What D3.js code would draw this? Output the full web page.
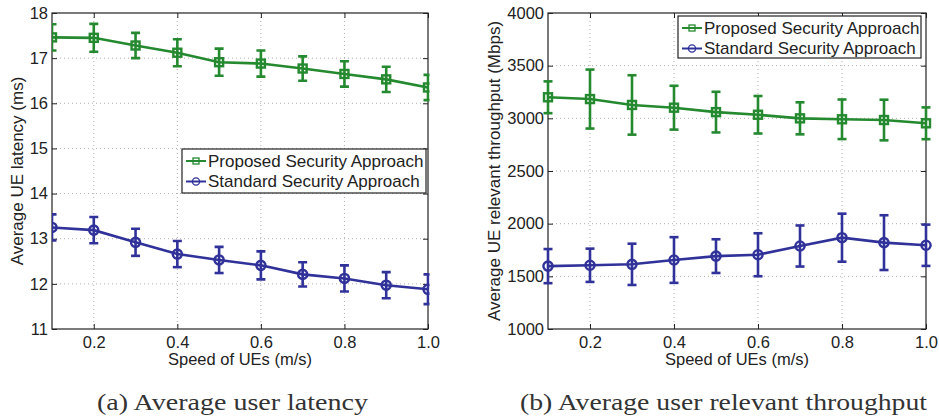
<!DOCTYPE html>
<html>
<head>
<meta charset="utf-8">
<script src="https://cdn.jsdelivr.net/npm/d3@7"></script>
<style>
  html, body { margin: 0; padding: 0; background: #fff; }
  svg { display: block; }
  .sans { font-family: "Liberation Sans", Arial, Helvetica, sans-serif; fill: #222; }
  .serif { font-family: "Liberation Serif", "DejaVu Serif", serif; fill: #333; }
</style>
</head>
<body>
<svg id="chart" width="939" height="418"></svg>
<script>
// ---------- data ----------
const speeds = [0.1, 0.2, 0.3, 0.4, 0.5, 0.6, 0.7, 0.8, 0.9, 1.0];
const xTicks = [0.2, 0.4, 0.6, 0.8, 1.0];

const latencyProposed    = [17.46, 17.45, 17.28, 17.12, 16.91, 16.88, 16.77, 16.65, 16.53, 16.35];
const latencyProposedErr = [0.29, 0.31, 0.28, 0.30, 0.30, 0.29, 0.27, 0.28, 0.28, 0.28];
const latencyStandard    = [13.25, 13.19, 12.92, 12.66, 12.53, 12.41, 12.21, 12.12, 11.97, 11.88];
const latencyStandardErr = [0.29, 0.29, 0.30, 0.29, 0.29, 0.31, 0.27, 0.29, 0.29, 0.33];
const latencyTicks = [11, 12, 13, 14, 15, 16, 17, 18];

const thrProposed    = [3200, 3183, 3127, 3101, 3059, 3034, 3000, 2991, 2984, 2953];
const thrProposedErr = [151, 280, 282, 208, 193, 178, 152, 188, 193, 151];
const thrStandard    = [1597, 1605, 1614, 1655, 1692, 1705, 1788, 1867, 1820, 1795];
const thrStandardErr = [162, 158, 196, 217, 160, 204, 195, 228, 260, 196];
const thrTicks = [1000, 1500, 2000, 2500, 3000, 3500, 4000];

const seriesNames = ["Proposed Security Approach", "Standard Security Approach"];
const captions = ["(a)  Average user latency", "(b)  Average user relevant throughput"];

const GREEN = "#24892f";
const BLUE = "#30329a";

const svg = d3.select("#chart");

function drawPanel(cfg) {
  const { id, left, right, top, bottom, yDomain, yTicks, yLabel, proposed, proposedErr, standard, standardErr,
          clip, legend, yLabelX, caption, captionX, captionWidth } = cfg;
  const x = d3.scaleLinear().domain([0.1, 1.0]).range([left, right]);
  const y = d3.scaleLinear().domain(yDomain).range([bottom, top]);
  const g = svg.append("g");

  // grid
  g.append("g").selectAll("line").data(xTicks.filter(t => t < 1.0)).join("line")
    .attr("x1", d => x(d)).attr("x2", d => x(d)).attr("y1", top).attr("y2", bottom)
    .attr("stroke", "#9a9a9a").attr("stroke-width", 0.8).attr("stroke-dasharray", "1,3");
  g.append("g").selectAll("line").data(yTicks.slice(1, -1)).join("line")
    .attr("x1", left).attr("x2", right).attr("y1", d => y(d)).attr("y2", d => y(d))
    .attr("stroke", "#9a9a9a").attr("stroke-width", 0.8).attr("stroke-dasharray", "1,3");

  // axes with inward ticks
  const tk = 5;
  const axB = g.append("g").attr("transform", `translate(0,${bottom})`)
    .call(d3.axisBottom(x).tickValues(xTicks).tickFormat(d3.format(".1f")).tickSizeInner(-tk).tickSizeOuter(0).tickPadding(7));
  const axT = g.append("g").attr("transform", `translate(0,${top})`)
    .call(d3.axisTop(x).tickValues(xTicks).tickFormat("").tickSizeInner(-tk).tickSizeOuter(0));
  const axL = g.append("g").attr("transform", `translate(${left},0)`)
    .call(d3.axisLeft(y).tickValues(yTicks).tickFormat(d3.format("d")).tickSizeInner(-tk).tickSizeOuter(0).tickPadding(4));
  const axR = g.append("g").attr("transform", `translate(${right},0)`)
    .call(d3.axisRight(y).tickValues(yTicks).tickFormat("").tickSizeInner(-tk).tickSizeOuter(0));
  [axB, axT, axL, axR].forEach(a => {
    a.select(".domain").remove();
    a.selectAll(".tick line").attr("stroke", "#222");
    a.selectAll("text").attr("class", "sans").style("font-size", "16.5px").attr("fill", "#222");
  });

  // box
  g.append("rect").attr("x", left).attr("y", top).attr("width", right - left).attr("height", bottom - top)
    .attr("fill", "none").attr("stroke", "#222").attr("stroke-width", 1.2);

  // axis labels
  g.append("text").attr("class", "sans").style("font-size", "16.5px")
    .attr("x", (left + right) / 2).attr("y", bottom + 36).attr("text-anchor", "middle")
    .text("Speed of UEs (m/s)");
  g.append("text").attr("class", "sans").style("font-size", "17px")
    .attr("transform", `translate(${yLabelX},${(top + bottom) / 2}) rotate(-90)`)
    .attr("text-anchor", "middle").text(yLabel);

  // data layer
  let dl = g.append("g");
  if (clip) {
    svg.append("clipPath").attr("id", "clip" + id).append("rect")
      .attr("x", left).attr("y", top).attr("width", right - left + 1.5).attr("height", bottom - top);
    dl.attr("clip-path", `url(#clip${id})`);
  }

  function series(vals, errs, color, marker) {
    const pts = speeds.map((s, i) => ({ s, v: vals[i], e: errs[i] }));
    const sg = dl.append("g");
    sg.append("path").datum(pts)
      .attr("d", d3.line().x(d => x(d.s)).y(d => y(d.v)))
      .attr("fill", "none").attr("stroke", color).attr("stroke-width", 2.6);
    const cw = 4.5;
    const eb = sg.append("g").selectAll("g").data(pts).join("g")
      .attr("stroke", color).attr("stroke-width", 2.6).attr("fill", "none");
    eb.append("line").attr("x1", d => x(d.s)).attr("x2", d => x(d.s))
      .attr("y1", d => y(d.v - d.e)).attr("y2", d => y(d.v + d.e));
    eb.append("line").attr("x1", d => x(d.s) - cw).attr("x2", d => x(d.s) + cw)
      .attr("y1", d => y(d.v + d.e)).attr("y2", d => y(d.v + d.e));
    eb.append("line").attr("x1", d => x(d.s) - cw).attr("x2", d => x(d.s) + cw)
      .attr("y1", d => y(d.v - d.e)).attr("y2", d => y(d.v - d.e));
    const mk = sg.append("g").selectAll("g").data(pts).join("g")
      .attr("transform", d => `translate(${x(d.s)},${y(d.v)})`);
    if (marker === "square") {
      mk.append("rect").attr("x", -4).attr("y", -4).attr("width", 8).attr("height", 8)
        .attr("fill", "none").attr("stroke", color).attr("stroke-width", 2.4);
    } else {
      mk.append("circle").attr("r", 4.6)
        .attr("fill", "none").attr("stroke", color).attr("stroke-width", 2.4);
    }
  }
  series(proposed, proposedErr, GREEN, "square");
  series(standard, standardErr, BLUE, "circle");

  // legend
  const lg = g.append("g");
  lg.append("rect").attr("x", legend.x).attr("y", legend.y).attr("width", legend.w).attr("height", legend.h)
    .attr("fill", "#fff").attr("stroke", "#222").attr("stroke-width", 1.2);
  const items = [{ name: seriesNames[0], color: GREEN, m: "square" }, { name: seriesNames[1], color: BLUE, m: "circle" }];
  items.forEach((it, i) => {
    const cy = legend.y + 12 + i * 20.5;
    const x0 = legend.x + 4, x1 = legend.x + 24, xm = (x0 + x1) / 2;
    lg.append("line").attr("x1", x0).attr("x2", x1).attr("y1", cy).attr("y2", cy)
      .attr("stroke", it.color).attr("stroke-width", 2);
    if (it.m === "square") {
      lg.append("rect").attr("x", xm - 3).attr("y", cy - 3).attr("width", 6).attr("height", 6)
        .attr("fill", "none").attr("stroke", it.color).attr("stroke-width", 1.3);
    } else {
      lg.append("circle").attr("cx", xm).attr("cy", cy).attr("r", 3.6)
        .attr("fill", "none").attr("stroke", it.color).attr("stroke-width", 1.3);
    }
    lg.append("text").attr("class", "sans").style("font-size", "17px")
      .attr("x", x1 + 2).attr("y", cy).attr("dy", "0.35em").text(it.name);
  });

  // caption
  svg.append("text").attr("class", "serif").style("font-size", "23px")
    .attr("x", captionX).attr("y", 410).attr("textLength", captionWidth).attr("lengthAdjust", "spacingAndGlyphs")
    .text(caption);
}

drawPanel({
  id: "a", left: 52, right: 428, top: 13, bottom: 329,
  yDomain: [11, 18], yTicks: latencyTicks, yLabel: "Average UE latency (ms)",
  proposed: latencyProposed, proposedErr: latencyProposedErr,
  standard: latencyStandard, standardErr: latencyStandardErr,
  clip: true, legend: { x: 182, y: 149, w: 244, h: 44 }, yLabelX: 23,
  caption: captions[0], captionX: 97, captionWidth: 271
});
drawPanel({
  id: "b", left: 548, right: 926, top: 13, bottom: 329,
  yDomain: [1000, 4000], yTicks: thrTicks, yLabel: "Average UE relevant throughput (Mbps)",
  proposed: thrProposed, proposedErr: thrProposedErr,
  standard: thrStandard, standardErr: thrStandardErr,
  clip: false, legend: { x: 678, y: 16, w: 243, h: 42 }, yLabelX: 500,
  caption: captions[1], captionX: 520, captionWidth: 407
});
</script>
</body>
</html>
